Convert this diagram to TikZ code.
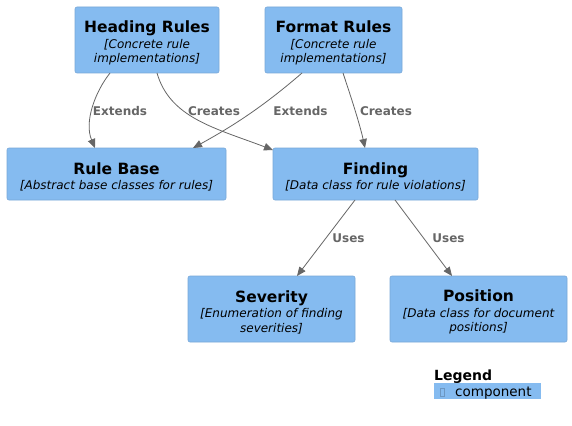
\documentclass[tikz,border=0pt]{standalone}
\usepackage{fontspec}
\setmainfont{DejaVu Sans}
\usetikzlibrary{arrows.meta,calc}
\definecolor{boxfill}{HTML}{85BBF0}
\definecolor{boxline}{HTML}{78A8D8}
\definecolor{edgegray}{HTML}{666666}
\newcommand{\ttl}[1]{{\fontsize{15.5}{17}\selectfont\bfseries\rule{0pt}{18pt}#1}}
\newcommand{\dsc}[1]{{\fontsize{12}{13.7}\selectfont\itshape #1}}
\begin{document}
\begin{tikzpicture}[x=1pt,y=-1pt,
  box/.style={rectangle, rounded corners=2pt, fill=boxfill, draw=boxline, line width=0.6pt,
    inner sep=0pt, outer sep=0pt, align=center, font=\fontsize{12}{13.7}\selectfont},
  rel/.style={draw=edgegray, line width=0.8pt, -{Triangle[length=9pt,width=7.5pt]}},
  lbl/.style={text=edgegray, font=\fontsize{12}{14}\selectfont\bfseries, inner sep=0pt}
]
\fill[white] (0,0) rectangle (572,425);
\useasboundingbox (0,0) rectangle (572,425);

\node[box, minimum width=144pt, minimum height=66pt] (hr) at (147,40)
  {\ttl{Heading Rules}\\[1.5pt]\dsc{[Concrete rule}\\[0.8pt]\dsc{implementations]}};
\node[box, minimum width=137pt, minimum height=66pt] (fr) at (333.5,40)
  {\ttl{Format Rules}\\[1.5pt]\dsc{[Concrete rule}\\[0.8pt]\dsc{implementations]}};
\node[box, minimum width=219pt, minimum height=52pt] (rb) at (116.5,174)
  {\ttl{Rule Base}\\[1.5pt]\dsc{[Abstract base classes for rules]}};
\node[box, minimum width=205pt, minimum height=52pt] (fi) at (375.5,174)
  {\ttl{Finding}\\[1.5pt]\dsc{[Data class for rule violations]}};
\node[box, minimum width=167pt, minimum height=66pt] (se) at (271.5,309)
  {\ttl{Severity}\\[1.5pt]\dsc{[Enumeration of finding}\\[0.8pt]\dsc{severities]}};
\node[box, minimum width=177pt, minimum height=66pt] (po) at (478.5,309)
  {\ttl{Position}\\[1.5pt]\dsc{[Data class for document}\\[0.8pt]\dsc{positions]}};

% edges
\draw[rel] ([xshift=-37pt]hr.south) .. controls (95,92) and (84,122) .. ([xshift=-21.5pt]rb.north);
\draw[rel] ([xshift=10pt]hr.south) .. controls (170,118) and (215,128) .. ([yshift=-2pt]fi.north west);
\draw[rel] ([xshift=-31.5pt]fr.south) .. controls (265,105) and (235,125) .. ([xshift=76.5pt]rb.north);
\draw[rel] ([xshift=9.5pt]fr.south) .. controls (352,100) and (360,125) .. ([xshift=-10.5pt]fi.north);
\draw[rel] ([xshift=-20.5pt]fi.south) -- ([xshift=25.5pt]se.north);
\draw[rel] ([xshift=19.5pt]fi.south) -- ([xshift=-26.5pt]po.north);

% labels
\node[lbl] (l1) at (120,111) {Extends};
\node[lbl] (l2) at (214,111) {Creates};
\node[lbl] (l3) at (300.5,111) {Extends};
\node[lbl] (l4) at (386,111) {Creates};
\node[lbl] (l5) at (348.5,238) {Uses};
\node[lbl] (l6) at (448.5,238) {Uses};

% legend
\node[anchor=base west, inner sep=0pt, font=\fontsize{14}{16}\selectfont\bfseries] (lg) at (434,380) {Legend};
\node[anchor=north west, fill=boxfill, minimum width=107pt, minimum height=16pt, inner sep=0pt] (lc) at (434,383) {};
\draw[boxline!90!black, line width=0.4pt] (440.5,388) rectangle (444.5,396.5);
\node[anchor=base west, inner sep=0pt, font=\fontsize{13.5}{15}\selectfont] (lt) at (455,396) {component};
\end{tikzpicture}
\end{document}
